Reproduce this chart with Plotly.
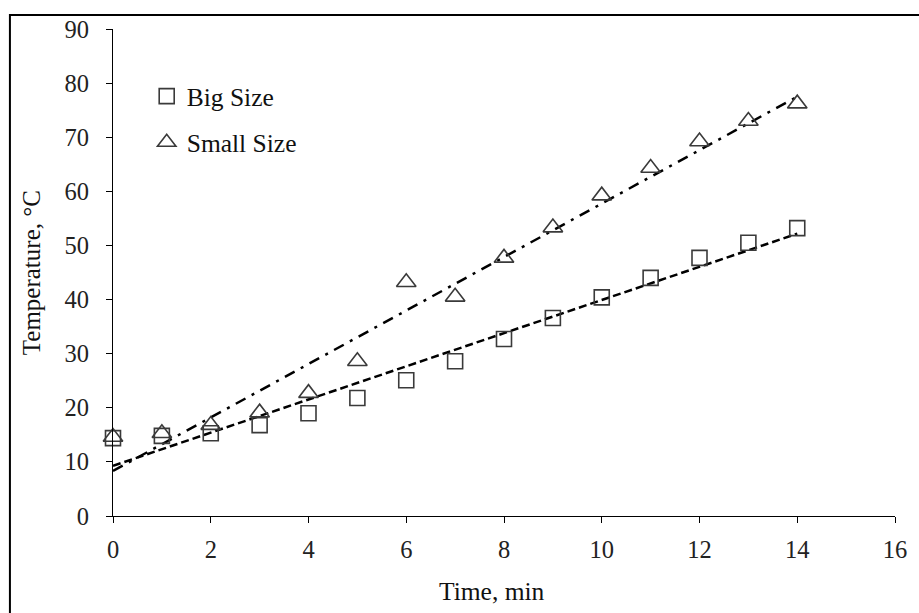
import numpy as np
import plotly.graph_objects as go

time_min = [0, 1, 2, 3, 4, 5, 6, 7, 8, 9, 10, 11, 12, 13, 14]
big_size = [14.4, 14.8, 15.3, 16.8, 19.0, 21.8, 25.1, 28.6, 32.7, 36.6, 40.4, 44.0, 47.7, 50.5, 53.2]
small_size = [14.6, 15.3, 16.8, 19.1, 22.7, 28.6, 43.2, 40.5, 47.7, 53.3, 59.2, 64.3, 69.2, 73.0, 76.2]
x_ticks = [0, 2, 4, 6, 8, 10, 12, 14, 16]
y_ticks = [0, 10, 20, 30, 40, 50, 60, 70, 80, 90]

FONT = "Liberation Serif, Times New Roman, serif"
W, H = 919, 613
ML, MR, MT, MB = 113, 17, 29, 97
PW, PH = W - ML - MR, H - MT - MB

def px_x(p):
    return (p - ML) / PW

def px_y(p):
    return (H - MB - p) / PH

x_arr = np.array(time_min, dtype=float)
fit_x = np.array([time_min[0], time_min[-1]], dtype=float)
big_fit = np.polyfit(x_arr, np.array(big_size), 1)
small_fit = np.polyfit(x_arr, np.array(small_size), 1)

fig = go.Figure()

fig.add_trace(go.Scatter(
    x=fit_x, y=np.polyval(big_fit, fit_x), mode="lines",
    line=dict(color="black", width=2.5, dash="8px,4px"),
    showlegend=False, hoverinfo="skip", cliponaxis=False))
fig.add_trace(go.Scatter(
    x=fit_x, y=np.polyval(small_fit, fit_x), mode="lines",
    line=dict(color="black", width=2.5, dash="11px,7px,3px,7px"),
    showlegend=False, hoverinfo="skip", cliponaxis=False))

fig.add_trace(go.Scatter(
    x=time_min, y=big_size, mode="markers", name="Big Size",
    legendgroup="big",
    marker=dict(symbol="square-open", size=15, color="#3a3a3a",
                line=dict(width=1.6, color="#3a3a3a")),
    cliponaxis=False))
fig.add_trace(go.Scatter(
    x=time_min, y=small_size, mode="markers", name="Small Size",
    legendgroup="small",
    marker=dict(symbol="triangle-up-open", size=17, color="#3a3a3a",
                line=dict(width=1.6, color="#3a3a3a")),
    cliponaxis=False))

axis_common = dict(
    showline=True, linecolor="black", linewidth=1.2,
    ticks="outside", ticklen=6, tickcolor="black", tickwidth=1.2,
    showgrid=False, zeroline=False,
    tickfont=dict(family=FONT, size=24.5, color="#222"),
)

fig.update_layout(
    width=W, height=H,
    margin=dict(l=ML, r=MR, t=MT, b=MB),
    paper_bgcolor="white", plot_bgcolor="white",
    font=dict(family=FONT, color="#111"),
    xaxis=dict(range=[0, 16], tickvals=x_ticks, ticktext=[str(v) for v in x_ticks],
               ticklabelstandoff=5, **axis_common),
    yaxis=dict(range=[0, 90], tickvals=y_ticks, ticktext=[str(v) for v in y_ticks],
               ticklabelstandoff=12, **axis_common),
    legend=dict(x=px_x(147), y=px_y(73), xanchor="left", yanchor="top",
                bgcolor="rgba(0,0,0,0)", font=dict(family=FONT, size=25.5, color="#111"),
                itemwidth=30, tracegroupgap=10, traceorder="grouped"),
    showlegend=True,
    annotations=[
        dict(text="Time, min", xref="paper", yref="paper", x=px_x(495), y=px_y(591),
             xanchor="center", yanchor="middle", showarrow=False,
             font=dict(family=FONT, size=25.5, color="#111")),
        dict(text="Temperature, °C", xref="paper", yref="paper", x=px_x(31), y=0.5,
             xanchor="center", yanchor="middle", showarrow=False, textangle=-90,
             font=dict(family=FONT, size=25, color="#111")),
    ],
    shapes=[
        dict(type="rect", xref="paper", yref="paper",
             x0=px_x(9), x1=px_x(W + 40), y0=px_y(H + 40), y1=px_y(15),
             line=dict(color="black", width=2), fillcolor="rgba(0,0,0,0)", layer="below"),
    ],
)

fig.write_html("out.html", config={"displayModeBar": False},
               post_script="document.body.style.margin='0';document.body.style.overflow='hidden';")
